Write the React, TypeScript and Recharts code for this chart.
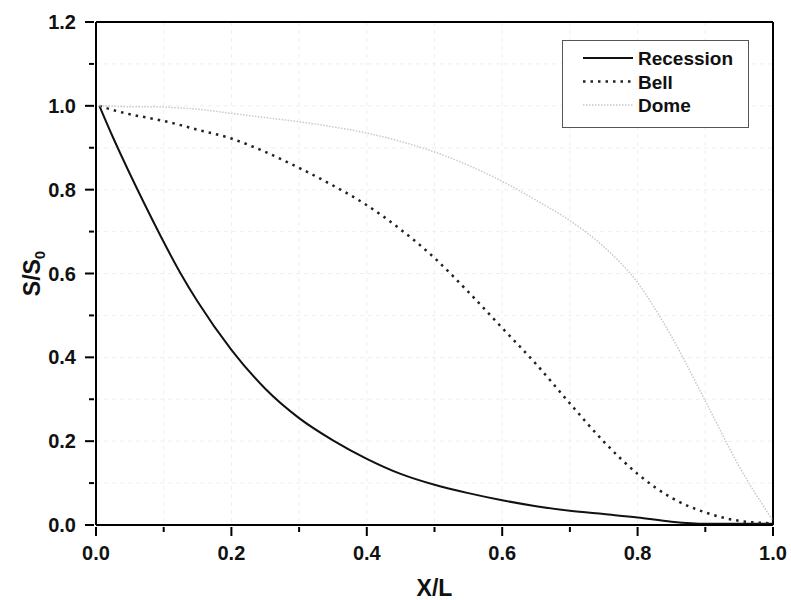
import React from 'react';
import {
  LineChart,
  Line,
  XAxis,
  YAxis,
  CartesianGrid,
  ReferenceLine,
} from 'recharts';

// x positions (X/L) shared by all three profiles
const xPositions = [
  0.005, 0.025, 0.05, 0.075, 0.1, 0.125, 0.15, 0.2, 0.25, 0.3, 0.35, 0.4,
  0.45, 0.5, 0.55, 0.6, 0.65, 0.7, 0.75, 0.8, 0.85, 0.9, 0.95, 1.0,
];

const recession = [
  1.0, 0.925, 0.838, 0.755, 0.675, 0.6, 0.533, 0.418, 0.325, 0.255, 0.202, 0.158,
  0.122, 0.096, 0.076, 0.059, 0.045, 0.034, 0.026, 0.018, 0.008, 0.003, 0.003, 0.003,
];

const bell = [
  1.0, 0.99, 0.98, 0.972, 0.964, 0.954, 0.943, 0.922, 0.89, 0.852, 0.81, 0.763,
  0.705, 0.637, 0.556, 0.47, 0.384, 0.29, 0.199, 0.122, 0.065, 0.03, 0.01, 0.004,
];

const dome = [
  1.0, 0.999, 0.998, 0.998, 0.997, 0.995, 0.992, 0.982, 0.972, 0.962, 0.95, 0.935,
  0.915, 0.89, 0.858, 0.82, 0.775, 0.726, 0.664, 0.578, 0.45, 0.296, 0.14, 0.01,
];

const xTicks = [0, 0.1, 0.2, 0.3, 0.4, 0.5, 0.6, 0.7, 0.8, 0.9, 1.0];
const yTicks = [0, 0.1, 0.2, 0.3, 0.4, 0.5, 0.6, 0.7, 0.8, 0.9, 1.0, 1.1, 1.2];

const seriesNames = ['Recession', 'Bell', 'Dome'];

const data = xPositions.map((x, i) => ({
  x,
  recession: recession[i],
  bell: bell[i],
  dome: dome[i],
}));

const FONT = '"Liberation Sans", Arial, sans-serif';

const lineStyles = [
  { key: 'recession', stroke: '#111', width: 2, dash: undefined as string | undefined },
  { key: 'bell', stroke: '#222', width: 2.5, dash: '2.5 5' },
  { key: 'dome', stroke: '#c9c9c9', width: 1.5, dash: '1.5 1.5' },
];

const isMajor = (v: number) => Math.round(v * 10) % 2 === 0;

const XTick = (props: any) => {
  const { x, y, payload } = props;
  const major = isMajor(payload.value);
  return (
    <g>
      <line x1={x} y1={y} x2={x} y2={y + (major ? 9 : 5)} stroke="#000" strokeWidth={2} />
      {major && (
        <text x={x} y={y + 33} textAnchor="middle" fontFamily={FONT} fontWeight="bold" fontSize={20} fill="#111">
          {payload.value.toFixed(1)}
        </text>
      )}
    </g>
  );
};

const YTick = (props: any) => {
  const { x, y, payload } = props;
  const major = isMajor(payload.value);
  return (
    <g>
      <line x1={x - (major ? 9 : 5)} y1={y} x2={x} y2={y} stroke="#000" strokeWidth={2} />
      {major && (
        <text x={x - 18} y={y + 7} textAnchor="end" fontFamily={FONT} fontWeight="bold" fontSize={20} fill="#111">
          {payload.value.toFixed(1)}
        </text>
      )}
    </g>
  );
};

const XTitle = ({ viewBox }: any) => (
  <text
    x={viewBox.x + viewBox.width / 2}
    y={viewBox.y + 71}
    textAnchor="middle"
    fontFamily={FONT}
    fontWeight="bold"
    fontSize={23}
    fill="#111"
  >
    X/L
  </text>
);

const YTitle = ({ viewBox }: any) => {
  const cx = 40;
  const cy = viewBox.y + viewBox.height / 2;
  return (
    <text
      transform={`translate(${cx}, ${cy}) rotate(-90)`}
      textAnchor="middle"
      fontFamily={FONT}
      fontWeight="bold"
      fontSize={23}
      fill="#111"
    >
      S/S
      <tspan fontSize={15} dy={5}>0</tspan>
    </text>
  );
};

const LegendBox = () => (
  <div
    style={{
      position: 'absolute',
      left: 562,
      top: 40,
      width: 185,
      height: 86,
      border: '1.5px solid #555',
      background: '#fff',
    }}
  >
    <svg width={185} height={86}>
      {lineStyles.map((s, i) => {
        const cy = 17 + i * 23.5;
        return (
          <g key={s.key}>
            <line
              x1={20}
              x2={70}
              y1={cy}
              y2={cy}
              stroke={s.stroke}
              strokeWidth={s.width}
              strokeDasharray={s.dash}
            />
            <text x={75} y={cy + 7} fontFamily={FONT} fontWeight="bold" fontSize={19} fill="#111">
              {seriesNames[i]}
            </text>
          </g>
        );
      })}
    </svg>
  </div>
);

export default function App() {
  return (
    <div style={{ position: 'absolute', left: 0, top: 0, width: 791, height: 600, background: '#fff' }}>
      <LineChart width={791} height={600} data={data} margin={{ top: 22, right: 18, bottom: 0, left: 0 }}>
        <CartesianGrid stroke="#efefef" strokeDasharray="4 4" />
        <XAxis
          dataKey="x"
          type="number"
          domain={[0, 1]}
          ticks={xTicks}
          interval={0}
          tickSize={0}
          tickLine={false}
          tick={<XTick />}
          axisLine={{ stroke: '#000', strokeWidth: 2 }}
          height={75}
          label={{ content: XTitle }}
        />
        <YAxis
          type="number"
          domain={[0, 1.2]}
          ticks={yTicks}
          interval={0}
          tickSize={0}
          tickLine={false}
          tick={<YTick />}
          axisLine={{ stroke: '#000', strokeWidth: 2 }}
          width={96}
          label={{ content: YTitle }}
        />
        <ReferenceLine y={1.2} stroke="#000" strokeWidth={2} />
        <ReferenceLine x={1} stroke="#000" strokeWidth={2} />
        {lineStyles.map((s) => (
          <Line
            key={s.key}
            type="monotone"
            dataKey={s.key}
            stroke={s.stroke}
            strokeWidth={s.width}
            strokeDasharray={s.dash}
            dot={false}
            isAnimationActive={false}
          />
        ))}
      </LineChart>
      <LegendBox />
    </div>
  );
}
